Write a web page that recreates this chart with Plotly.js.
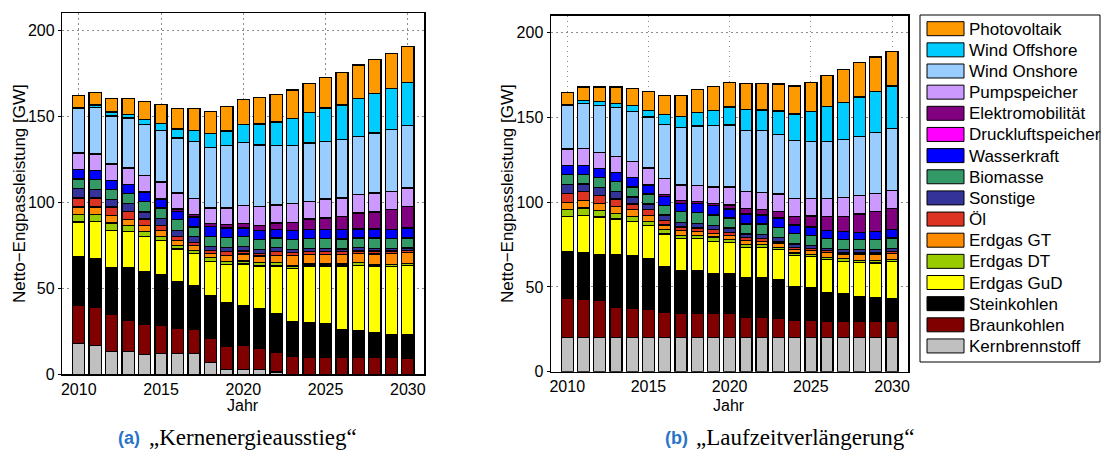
<!DOCTYPE html>
<html>
<head>
<meta charset="utf-8">
<script src="https://cdn.plot.ly/plotly-3.0.1.min.js"></script>
<style>
  html, body { margin: 0; padding: 0; background: #fff; }
  #chart { width: 1101px; height: 453px; }
</style>
</head>
<body>
<div id="chart"></div>
<script>
// Jahre der Szenarien
const years = [2010, 2011, 2012, 2013, 2014, 2015, 2016, 2017, 2018, 2019, 2020,
               2021, 2022, 2023, 2024, 2025, 2026, 2027, 2028, 2029, 2030];

// Energieträger, von unten nach oben gestapelt
const categories = ['Kernbrennstoff', 'Braunkohlen', 'Steinkohlen', 'Erdgas GuD', 'Erdgas DT',
                    'Erdgas GT', 'Öl', 'Sonstige', 'Biomasse', 'Wasserkraft', 'Druckluftspeicher',
                    'Elektromobilität', 'Pumpspeicher', 'Wind Onshore', 'Wind Offshore', 'Photovoltaik'];

// (a) Kernenergieausstieg – Netto-Engpassleistung in GW
const kern_a    = [17.8, 16.8, 13.2, 13.2, 11.6, 12.0, 12.0, 12.0, 6.8, 2.9, 2.9, 2.9, 1.4, 0, 0, 0, 0, 0, 0, 0, 0];
const braun_a   = [22.2, 21.9, 21.6, 18.3, 17.4, 16.4, 14.7, 14.1, 14.1, 13.6, 14.0, 12.0, 11.6, 10.3, 9.7, 9.7, 9.7, 9.7, 9.7, 9.7, 9.3];
const stein_a   = [28.3, 28.4, 27.1, 30.4, 30.6, 29.6, 26.9, 25.5, 25.1, 25.1, 22.8, 23.2, 22.2, 20.3, 20.3, 19.9, 16.4, 15.5, 14.5, 13.5, 13.9];
const gud_a     = [20.3, 21.8, 21.8, 20.9, 20.3, 19.9, 19.3, 18.6, 19.7, 22.2, 24.5, 24.8, 27.7, 30.9, 32.9, 33.3, 36.8, 38.2, 38.7, 39.3, 40.2];
const dt_a      = [4.2, 4.1, 4.3, 3.6, 2.9, 2.3, 2.1, 1.7, 2.0, 1.6, 1.6, 1.9, 1.9, 1.4, 1.3, 1.3, 1.3, 1.4, 0.9, 1.3, 1.0];
const gt_a      = [4.5, 4.3, 4.2, 3.5, 3.8, 3.5, 2.9, 2.9, 2.5, 3.8, 4.2, 3.9, 4.4, 6.3, 5.4, 5.4, 5.4, 5.4, 6.2, 6.4, 6.2];
const oel_a     = [5.2, 5.2, 5.1, 4.8, 3.7, 2.9, 2.3, 2.0, 1.7, 2.0, 1.6, 1.5, 2.0, 1.4, 1.8, 1.6, 1.6, 1.4, 1.6, 1.4, 1.3];
const sonst_a   = [5.4, 4.8, 4.2, 4.5, 4.1, 3.9, 3.5, 3.1, 2.5, 2.7, 2.5, 2.3, 2.3, 1.9, 1.9, 1.9, 1.7, 1.9, 1.5, 1.5, 1.6];
const bio_a     = [5.6, 5.8, 5.8, 5.8, 6.1, 6.2, 6.2, 5.8, 5.8, 5.8, 5.8, 5.8, 5.8, 5.8, 5.8, 5.8, 5.8, 5.8, 6.2, 5.8, 5.8];
const wasser_a  = [5.4, 5.2, 5.2, 5.2, 5.5, 4.8, 4.8, 5.8, 5.8, 5.4, 5.2, 5.2, 4.8, 5.2, 5.0, 5.2, 5.4, 5.2, 5.2, 5.2, 5.8];
const druck_a   = [0, 0, 0, 0, 0, 0, 0, 0, 0, 0, 0, 0, 0, 0, 0, 0, 0, 0, 0, 0, 0];
const elektro_a = [0, 0, 0, 0, 0, 0.6, 1.4, 1.3, 1.6, 1.9, 2.5, 3.1, 3.9, 4.9, 6.2, 6.8, 7.8, 9.3, 9.9, 11.6, 12.6];
const pump_a    = [9.7, 9.7, 9.7, 9.7, 9.4, 9.7, 9.3, 9.3, 9.1, 9.7, 10.6, 10.8, 10.4, 10.8, 10.3, 11.0, 10.6, 10.6, 11.0, 10.6, 10.6];
const won_a     = [26.1, 27.1, 28.0, 29.0, 29.6, 29.9, 31.9, 33.2, 35.2, 36.1, 36.6, 35.8, 34.4, 33.6, 33.8, 33.4, 33.8, 33.8, 34.8, 35.8, 36.3];
const woff_a    = [0.4, 1.5, 2.2, 2.3, 3.3, 4.2, 5.2, 6.4, 7.9, 8.7, 10.2, 12.2, 13.8, 15.7, 17.8, 19.4, 20.3, 22.3, 23.2, 24.2, 25.2];
const pv_a      = [7.0, 7.2, 8.1, 9.3, 10.2, 11.1, 11.8, 12.6, 12.9, 14.1, 14.9, 15.5, 16.2, 16.8, 17.0, 17.8, 18.8, 19.3, 19.7, 20.3, 20.6];

// (b) Laufzeitverlängerung – Netto-Engpassleistung in GW
const kern_b    = [20.3, 20.3, 20.3, 20.3, 20.3, 20.3, 20.3, 20.3, 20.3, 20.3, 20.3, 20.3, 20.3, 20.3, 20.3, 20.3, 20.3, 20.3, 20.3, 20.3, 20.3];
const braun_b   = [22.7, 22.1, 21.7, 17.7, 17.2, 16.6, 14.8, 14.2, 14.2, 14.2, 14.2, 11.8, 11.8, 11.4, 9.9, 9.9, 9.5, 9.5, 9.5, 9.5, 9.3];
const stein_b   = [27.9, 28.1, 26.9, 30.9, 30.8, 29.7, 26.9, 25.2, 25.2, 23.2, 23.2, 23.2, 23.2, 22.5, 20.2, 19.2, 17.1, 16.1, 14.7, 14.1, 13.4];
const gud_b     = [20.7, 21.6, 22.3, 21.1, 20.3, 19.6, 19.3, 18.7, 18.7, 19.1, 18.5, 18.1, 18.1, 17.7, 18.1, 18.5, 19.1, 19.3, 20.1, 20.3, 22.0];
const dt_b      = [3.9, 4.4, 3.9, 3.5, 3.0, 2.4, 2.4, 1.9, 1.9, 2.6, 1.6, 1.6, 1.6, 1.5, 1.6, 1.2, 1.2, 1.4, 1.0, 1.4, 1.0];
const gt_b      = [4.5, 4.5, 4.3, 4.0, 3.9, 3.5, 2.9, 3.0, 2.4, 2.3, 2.5, 2.4, 2.0, 2.6, 2.0, 2.4, 3.3, 2.9, 3.9, 3.9, 3.9];
const oel_b     = [5.3, 5.3, 4.6, 4.3, 3.5, 3.4, 2.6, 2.0, 2.0, 2.0, 1.8, 1.6, 1.4, 1.0, 1.3, 1.0, 1.0, 1.0, 1.0, 1.0, 1.0];
const sonst_b   = [5.3, 4.5, 4.7, 4.5, 4.0, 3.5, 3.3, 2.9, 2.9, 2.5, 2.6, 2.3, 2.5, 2.3, 2.0, 2.0, 1.0, 1.6, 1.6, 1.6, 1.6];
const bio_b     = [5.9, 5.7, 5.9, 5.9, 5.9, 5.9, 5.5, 6.3, 6.3, 6.3, 5.9, 5.9, 6.3, 5.9, 6.3, 5.9, 5.9, 5.7, 5.7, 5.9, 6.3];
const wasser_b  = [5.1, 5.1, 5.1, 5.3, 5.7, 4.9, 5.4, 4.9, 5.5, 5.4, 5.3, 5.9, 5.3, 5.4, 4.9, 4.9, 4.9, 4.9, 4.5, 4.9, 4.9];
const druck_b   = [0, 0, 0, 0, 0, 0, 0, 0, 0, 0, 0, 0, 0, 0, 0, 0, 0, 0, 0, 0, 0];
const elektro_b = [0, 0, 0, 0, 0, 0.8, 1.3, 1.6, 1.0, 1.5, 2.5, 3.0, 3.2, 3.9, 5.1, 6.5, 8.2, 9.0, 10.8, 11.8, 12.4];
const pump_b    = [9.7, 9.9, 9.8, 9.5, 9.4, 9.5, 9.1, 9.2, 9.4, 9.5, 10.5, 10.2, 10.2, 10.4, 10.3, 10.3, 10.5, 10.9, 10.8, 10.6, 10.8];
const won_b     = [26.1, 26.9, 27.6, 28.9, 29.5, 30.1, 32.2, 33.9, 35.2, 36.4, 36.7, 36.0, 36.4, 35.0, 34.4, 33.8, 33.8, 34.4, 35.0, 36.0, 36.4];
const woff_b    = [0.4, 1.6, 2.3, 2.5, 3.4, 3.9, 5.6, 6.5, 8.1, 8.6, 10.5, 12.2, 12.0, 13.8, 15.7, 17.7, 20.7, 21.6, 23.1, 24.0, 25.2];
const pv_b      = [7.1, 7.9, 8.5, 9.5, 10.0, 11.2, 11.4, 12.4, 13.2, 14.4, 14.5, 15.7, 15.7, 16.1, 16.4, 16.9, 18.2, 19.5, 20.2, 20.3, 20.4];

const yTicks = [0, 50, 100, 150, 200];
const xTicks = [2010, 2015, 2020, 2025, 2030];

// Farben je Energieträger (gleiche Reihenfolge wie categories)
const colors = ['#c0c0c0', '#800000', '#000000', '#ffff00', '#99cc00',
                '#ff8c00', '#dd3322', '#333399', '#339966', '#0000ff', '#ff00ff',
                '#800080', '#cc99ff', '#99ccff', '#00ccff', '#ff9900'];

const seriesA = [kern_a, braun_a, stein_a, gud_a, dt_a, gt_a, oel_a, sonst_a, bio_a, wasser_a,
                 druck_a, elektro_a, pump_a, won_a, woff_a, pv_a];
const seriesB = [kern_b, braun_b, stein_b, gud_b, dt_b, gt_b, oel_b, sonst_b, bio_b, wasser_b,
                 druck_b, elektro_b, pump_b, won_b, woff_b, pv_b];

const W = 1101, H = 453;
const px = x => x / W;
const py = y => 1 - y / H;

function stack(series, xa, ya) {
  return series.map((vals, i) => ({
    type: 'bar',
    x: years,
    y: vals,
    xaxis: xa,
    yaxis: ya,
    name: categories[i],
    width: 0.74,
    marker: { color: colors[i], line: { color: '#000', width: 1.3 } },
    showlegend: false,
    hoverinfo: 'skip'
  }));
}

const data = stack(seriesA, 'x', 'y').concat(stack(seriesB, 'x2', 'y2'));

const sans = 'Liberation Sans, Arial, sans-serif';
const tickFont = { family: sans, size: 16, color: '#000' };
const gridDash = '1.5px,3.5px';

function xAxis(domain, anchor) {
  return {
    domain: domain, anchor: anchor, range: [2009, 2031],
    tickvals: xTicks, ticks: '', tickfont: tickFont,
    showgrid: true, gridcolor: '#8c8c8c', griddash: gridDash, gridwidth: 1,
    showline: true, linecolor: '#000', linewidth: 1.5, mirror: true,
    zeroline: false, fixedrange: true
  };
}
function yAxis(domain, anchor) {
  return {
    domain: domain, anchor: anchor, range: [0, 210],
    tickvals: yTicks, ticks: 'outside', ticklen: 3, tickcolor: '#000', tickfont: tickFont,
    showgrid: true, gridcolor: '#8c8c8c', griddash: gridDash, gridwidth: 1,
    showline: true, linecolor: '#000', linewidth: 1.5, mirror: true,
    zeroline: false, fixedrange: true
  };
}

const annotations = [];
const shapes = [];

// Achsentitel
function axisTitles(cx, yx, cy) {
  annotations.push({ xref: 'paper', yref: 'paper', x: px(cx), y: py(405), text: 'Jahr',
    showarrow: false, xanchor: 'center', yanchor: 'middle', font: { family: sans, size: 16, color: '#000' } });
  annotations.push({ xref: 'paper', yref: 'paper', x: px(yx), y: py(cy), text: 'Netto\u2212Engpassleistung [GW]',
    textangle: -90, showarrow: false, xanchor: 'center', yanchor: 'middle',
    font: { family: sans, size: 17, color: '#000' } });
}
axisTitles(243, 20, 194);
axisTitles(729, 508, 194);

// Bildunterschriften
function caption(xLetter, letter, xText, title) {
  annotations.push({ xref: 'paper', yref: 'paper', x: px(xLetter), y: py(438), text: '<b>(' + letter + ')</b>',
    showarrow: false, xanchor: 'left', yanchor: 'middle', font: { family: sans, size: 18, color: '#2a74c8' } });
  annotations.push({ xref: 'paper', yref: 'paper', x: px(xText), y: py(437), text: '\u201E' + title + '\u201C',
    showarrow: false, xanchor: 'left', yanchor: 'middle', font: { family: 'Liberation Serif, serif', size: 23, color: '#000' } });
}
caption(116, 'a', 147, 'Kernenergieausstieg');
caption(663, 'b', 694, 'Laufzeitverlängerung');

// Legende
shapes.push({ type: 'rect', xref: 'paper', yref: 'paper', x0: px(920), x1: px(1100), y0: py(15), y1: py(362),
  line: { color: '#000', width: 1 }, fillcolor: '#fff', layer: 'above' });
const order = categories.slice().reverse();
order.forEach((name, i) => {
  const top = 21.7 + i * 21.15;
  const ci = categories.indexOf(name);
  shapes.push({ type: 'rect', xref: 'paper', yref: 'paper', x0: px(927), x1: px(964), y0: py(top), y1: py(top + 14),
    line: { color: '#000', width: 1 }, fillcolor: colors[ci], layer: 'above' });
  annotations.push({ xref: 'paper', yref: 'paper', x: px(967), y: py(top + 7.5), text: name,
    showarrow: false, xanchor: 'left', yanchor: 'middle', font: { family: sans, size: 17, color: '#000' } });
});

const layout = {
  width: W, height: H,
  margin: { l: 0, r: 0, t: 0, b: 0 },
  paper_bgcolor: '#fff', plot_bgcolor: '#fff',
  barmode: 'stack', bargap: 0,
  showlegend: false,
  xaxis: xAxis([px(62.3), px(424.3)], 'y'),
  yaxis: yAxis([py(374.3), py(13)], 'x'),
  xaxis2: xAxis([px(551), px(908.3)], 'y2'),
  yaxis2: yAxis([py(371.7), py(15.7)], 'x2'),
  annotations: annotations,
  shapes: shapes
};

Plotly.newPlot('chart', data, layout, { staticPlot: true, displayModeBar: false });
</script>
</body>
</html>
